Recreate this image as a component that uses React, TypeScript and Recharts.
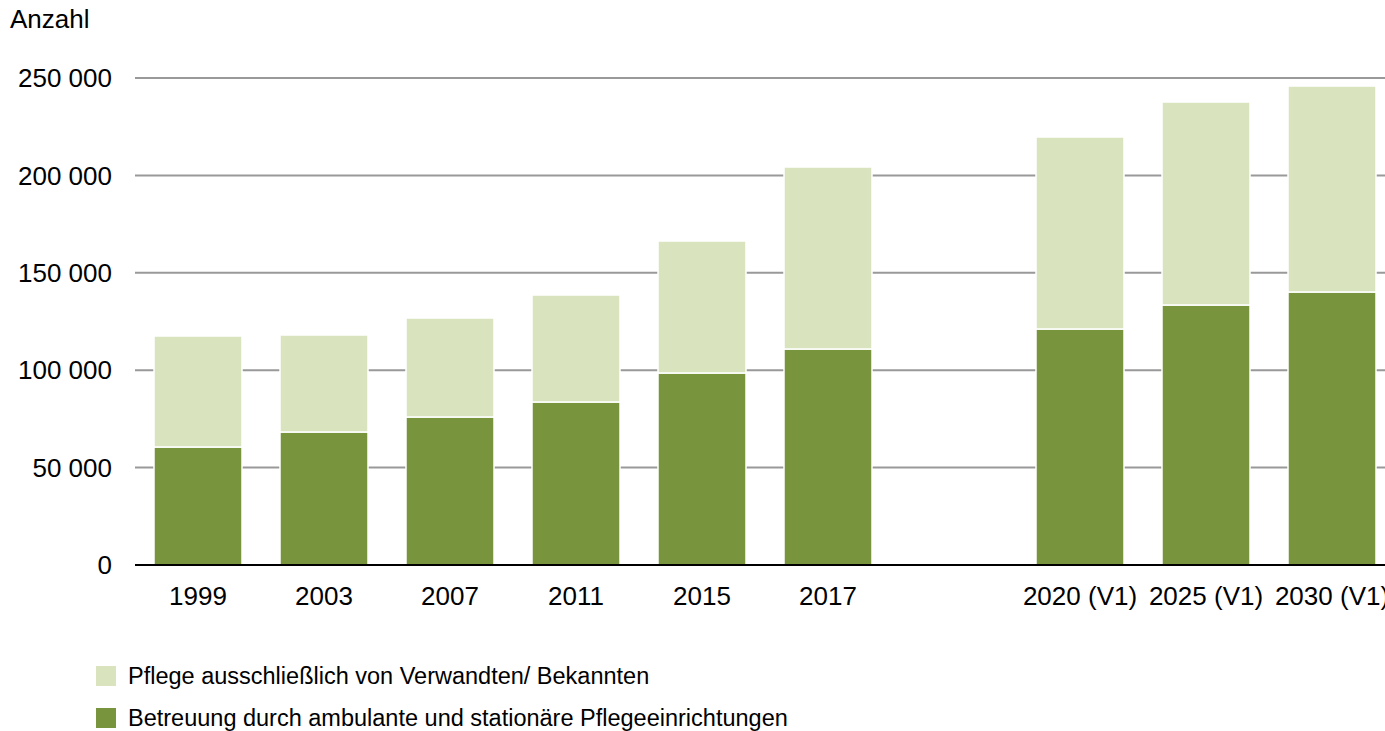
import { BarChart, Bar, XAxis, YAxis, CartesianGrid } from 'recharts';

const years = ['1999', '2003', '2007', '2011', '2015', '2017', '', '2020 (V1)', '2025 (V1)', '2030 (V1)'];
const betreuung = [60600, 68300, 76000, 83700, 98600, 110900, null, 121200, 133500, 140100];
const angehoerige = [57000, 49800, 50800, 54900, 67700, 93400, null, 98500, 104200, 105800];
const yTicks = [0, 50000, 100000, 150000, 200000, 250000];

const seriesNames = {
  angehoerige: 'Pflege ausschließlich von Verwandten/ Bekannten',
  betreuung: 'Betreuung durch ambulante und stationäre Pflegeeinrichtungen',
};
const dark = '#78943c';
const light = '#d9e4bf';

const data = years.map((year, i) => ({
  year,
  betreuung: betreuung[i],
  angehoerige: angehoerige[i],
}));

const font = '"Liberation Sans", Arial, sans-serif';
const fmt = (v: number) => String(v).replace(/\B(?=(\d{3})+(?!\d))/g, ' ');

const legendItems = [
  { name: seriesNames.angehoerige, color: light },
  { name: seriesNames.betreuung, color: dark },
];

export default function App() {
  return (
    <div style={{ position: 'absolute', left: 0, top: 0, width: 1385, height: 731, overflow: 'hidden', background: '#fff', fontFamily: font }}>
      <div style={{ position: 'absolute', left: 10, top: 4, fontSize: 26, color: '#000', lineHeight: 'normal' }}>Anzahl</div>
      <BarChart
        width={1400}
        height={620}
        data={data}
        margin={{ top: 78, right: 5, left: 0, bottom: 25 }}
        barCategoryGap={19}
      >
        <CartesianGrid vertical={false} stroke="#999" strokeWidth={2} />
        <YAxis
          width={135}
          domain={[0, 250000]}
          ticks={yTicks}
          tickFormatter={fmt}
          axisLine={false}
          tickLine={false}
          tickMargin={17}
          tick={{ fill: '#000', fontSize: 26, fontFamily: font }}
        />
        <XAxis
          dataKey="year"
          axisLine={{ stroke: '#000', strokeWidth: 2 }}
          tickLine={false}
          tickMargin={16}
          interval={0}
          tick={{ fill: '#000', fontSize: 26, fontFamily: font }}
        />
        <Bar dataKey="betreuung" stackId="a" fill={dark} stroke="#fff" strokeWidth={1.5} isAnimationActive={false} />
        <Bar dataKey="angehoerige" stackId="a" fill={light} stroke="#fff" strokeWidth={1.5} isAnimationActive={false} />
      </BarChart>
      <div style={{ position: 'absolute', left: 96, top: 655 }}>
        {legendItems.map((item) => (
          <div key={item.name} style={{ display: 'flex', alignItems: 'center', height: 42, fontSize: 23.5, color: '#000', whiteSpace: 'nowrap' }}>
            <span style={{ width: 20, height: 20, background: item.color, marginRight: 12, display: 'inline-block', flexShrink: 0 }} />
            {item.name}
          </div>
        ))}
      </div>
    </div>
  );
}
